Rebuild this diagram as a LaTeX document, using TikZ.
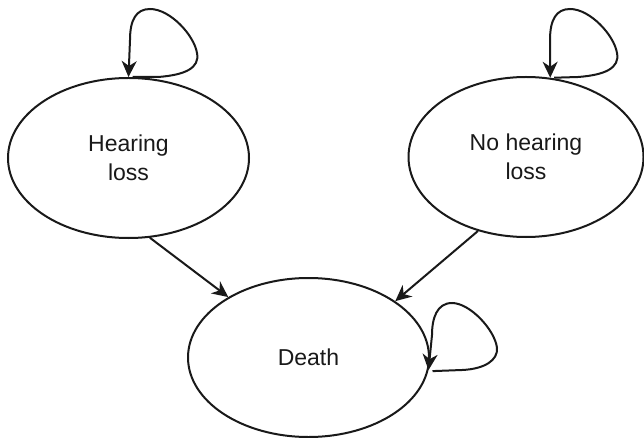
\documentclass[tikz,border=0pt]{standalone}
\usepackage{fontspec}
\setmainfont{Liberation Sans}
\usetikzlibrary{shapes.geometric,arrows.meta,calc}

\tikzset{
  state/.style={ellipse, draw=black!90, line width=2pt, inner sep=0pt,
    align=center, text=black!90, font=\fontsize{23}{29}\selectfont},
  trans/.style={draw=black!90, line width=2pt,
    -{Stealth[length=16pt, width=15pt, inset=5pt]}},
}

\begin{document}
\begin{tikzpicture}[x=1pt, y=-1pt]
  \useasboundingbox (0,0) rectangle (644,438);

  % states
  \node[state, minimum width=241pt, minimum height=160pt] (hl) at (128.5,158) {Hearing\\loss};
  \node[state, minimum width=235pt, minimum height=160pt] (nh) at (526,157) {No hearing\\loss};
  \node[state, minimum width=241pt, minimum height=159pt] (de) at (308.5,357.5) {Death};

  % transitions into Death
  \draw[trans] (hl.-75.6) -- (de.143.5);
  \draw[trans] (nh.-123.2) -- (de.33.6);

  % self loops
  \draw[trans] ($(hl.north)+(4,0)$) -- (158,77)
    .. controls (185,75) and (200,68) .. (197,53)
    .. controls (194,35) and (170,9) .. (150,9)
    .. controls (136,9) and (130,20) .. (130,40) -- (hl.north);
  \draw[trans] ($(nh.73)+(4,0)$) -- (578,77)
    .. controls (605,75) and (620,68) .. (617,53)
    .. controls (614,35) and (590,9) .. (570,9)
    .. controls (556,9) and (550,20) .. (550,40) -- (nh.73);
  \draw[trans] ($(de.-6)+(4,1)$) -- (462,370)
    .. controls (485,369) and (498,360) .. (497,348)
    .. controls (495,330) and (470,303) .. (452,303)
    .. controls (437,303) and (432,318) .. (432,335) -- (de.-6);
\end{tikzpicture}
\end{document}
